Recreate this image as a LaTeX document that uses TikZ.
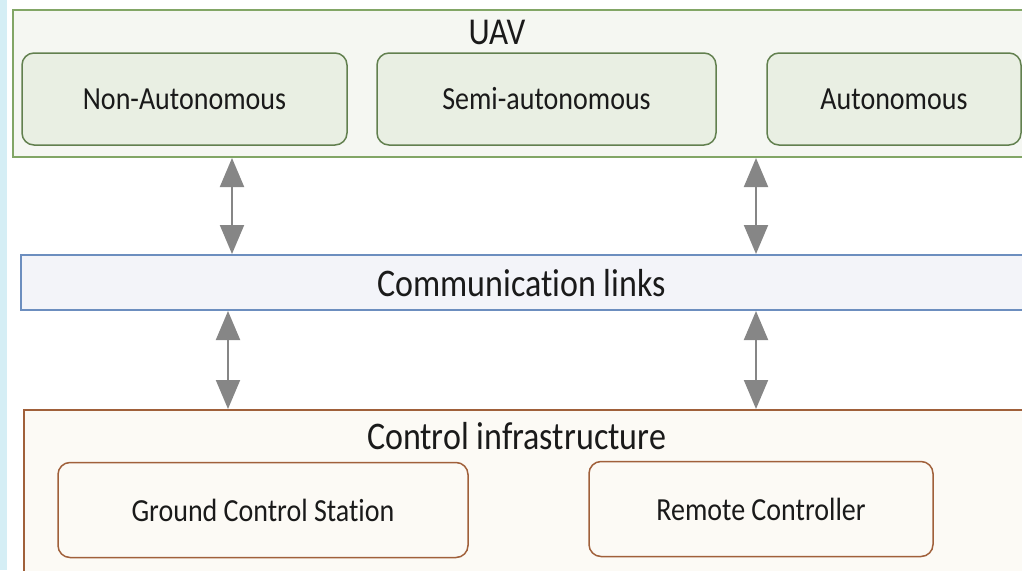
\documentclass[tikz,border=0pt]{standalone}
\usepackage{graphicx}
\usepackage{fontspec}
\setmainfont{Carlito}[Ligatures=NoCommon]
\usetikzlibrary{arrows.meta}

\definecolor{uavline}{HTML}{82A666}
\definecolor{uavfill}{HTML}{F5F7F2}
\definecolor{modeline}{HTML}{62804F}
\definecolor{modefill}{HTML}{E9EFE3}
\definecolor{commline}{HTML}{6C8EBF}
\definecolor{commfill}{HTML}{F3F4F9}
\definecolor{ctrlline}{HTML}{A0603A}
\definecolor{ctrlfill}{HTML}{FCFAF5}
\definecolor{strip}{HTML}{D5EEF5}
\definecolor{ink}{HTML}{1A1A1A}

\newcommand\tall[1]{\scalebox{1}[1.15]{#1}}

\begin{document}
\begin{tikzpicture}[x=1pt,y=-1pt,text=ink,
    layer/.style={draw,line width=2pt,inner sep=0pt},
    mode/.style={draw=modeline,fill=modefill,line width=1.5pt,rounded corners=12pt,
        minimum height=92pt,font=\fontsize{28}{30}\selectfont},
    unit/.style={draw=ctrlline,fill=ctrlfill,line width=1.5pt,rounded corners=12pt,
        minimum height=95pt,font=\fontsize{28}{30}\selectfont},
    link/.style={draw=gray!95,line width=2pt,{Triangle[width=24pt,length=29pt]}-{Triangle[width=24pt,length=29pt]}}]
    \useasboundingbox (0,0) rectangle (1022,570);
    \clip (0,0) rectangle (1022,570);
    \fill[strip] (0,0) rectangle (7,570);

    % layers
    \node[layer,draw=uavline,fill=uavfill,minimum width=1040pt,minimum height=147pt] (uav) at (533,83.5) {};
    \node[layer,draw=commline,fill=commfill,minimum width=1040pt,minimum height=55pt] (comm) at (541,282.5) {};
    \node[layer,draw=ctrlline,fill=ctrlfill,minimum width=1040pt,minimum height=170pt] (ctrl) at (544,495) {};

    \node[font=\fontsize{33}{35}\selectfont] (uavtitle) at (497,32) {\tall{UAV}};
    \node[font=\fontsize{34}{36}\selectfont] (commtitle) at (521.5,283) {\tall{Communication links}};
    \node[font=\fontsize{34}{36}\selectfont] (ctrltitle) at (516.5,436) {\tall{Control infrastructure}};

    % UAV types
    \node[mode,minimum width=325pt] (nonauto) at (184.5,99) {\tall{Non-Autonomous}};
    \node[mode,minimum width=339pt] (semiauto) at (546.5,99) {\tall{Semi-autonomous}};
    \node[mode,minimum width=254pt] (auto) at (894,99) {\tall{Autonomous}};

    % control units
    \node[unit,minimum width=410pt] (gcs) at (263,510) {\tall{Ground Control Station}};
    \node[unit,minimum width=344pt] (rc) at (761,509) {\tall{Remote Controller}};

    % links
    \coordinate (a1) at (232,0);
    \coordinate (a2) at (756,0);
    \coordinate (b1) at (228,0);
    \draw[link] (uav.south -| a1) -- (comm.north -| a1);
    \draw[link] (uav.south -| a2) -- (comm.north -| a2);
    \draw[link] (comm.south -| b1) -- (ctrl.north -| b1);
    \draw[link] (comm.south -| a2) -- (ctrl.north -| a2);
\end{tikzpicture}
\end{document}
